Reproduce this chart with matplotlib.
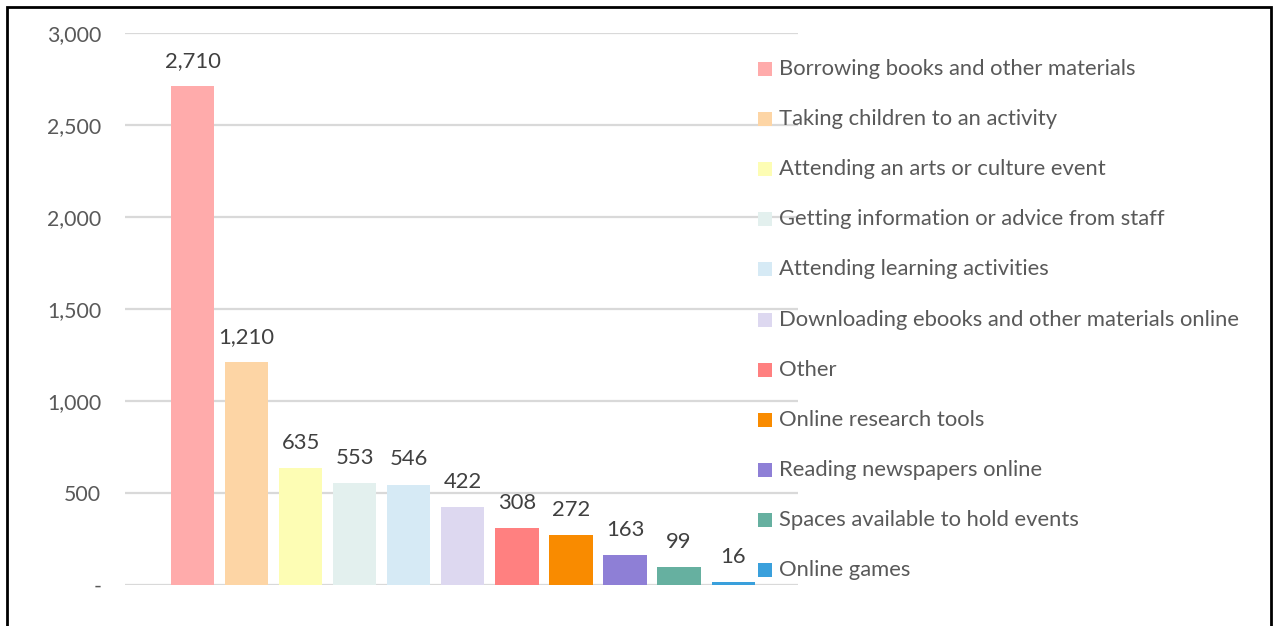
import matplotlib
matplotlib.use("Agg")
import matplotlib.pyplot as plt
from matplotlib.patches import Rectangle
from matplotlib.ticker import FuncFormatter

plt.rcParams["font.family"] = ["Lato", "DejaVu Sans"]

# Datos del gráfico
categories = [
    "Borrowing books and other materials",
    "Taking children to an activity",
    "Attending an arts or culture event",
    "Getting information or advice from staff",
    "Attending learning activities",
    "Downloading ebooks and other materials online",
    "Other",
    "Online research tools",
    "Reading newspapers online",
    "Spaces available to hold events",
    "Online games",
]
values = [2710, 1210, 635, 553, 546, 422, 308, 272, 163, 99, 16]
colors = [
    "#FFABAB", "#FDD5A5", "#FDFDB4", "#E3F0EE", "#D6EAF5", "#DDD8F0",
    "#FF8080", "#F98B00", "#8E7FD6", "#66B0A0", "#3AA0DC",
]
y_ticks = [0, 500, 1000, 1500, 2000, 2500, 3000]

W, H = 1273, 626
FS = 15.8
fig = plt.figure(figsize=(W / 100, H / 100), dpi=100)
ax = fig.add_axes([125 / W, 1 - 585 / H, (798 - 125) / W, (585 - 33) / H])

x = list(range(len(values)))
bars = ax.bar(x, values, width=0.8, color=colors, zorder=3)
for b, v in zip(bars, values):
    ax.annotate(f"{v:,}", (b.get_x() + b.get_width() / 2, v),
                xytext=(0, 11), textcoords="offset points",
                ha="center", va="bottom", fontsize=FS, color="#404040")

ax.set_xlim(-1.25, 11.2)
ax.set_ylim(0, 3000)
ax.set_yticks(y_ticks)
ax.yaxis.set_major_formatter(FuncFormatter(lambda v, p: "-" if v == 0 else f"{v:,.0f}"))
ax.tick_params(axis="y", length=0, pad=17, labelsize=FS - 0.5, labelcolor="#595959")
ax.set_xticks([])
ax.grid(axis="y", color="#D9D9D9", linewidth=1.6, zorder=0)
for s in ax.spines.values():
    s.set_visible(False)

# Leyenda manual
for i, (lab, c) in enumerate(zip(categories, colors)):
    yc = 69 + i * 50.1
    fig.patches.append(Rectangle((758 / W, 1 - (yc + 7) / H), 14 / W, 14 / H,
                                 transform=fig.transFigure, facecolor=c,
                                 edgecolor="none", zorder=5))
    fig.text(779 / W, 1 - yc / H, lab, fontsize=FS, color="#595959",
             va="center", ha="left", zorder=6)

# Marco exterior
fig.patches.append(Rectangle((7 / W, -0.01), (1271 - 7) / W, 1 - 7 / H + 0.01,
                             transform=fig.transFigure, facecolor="none",
                             edgecolor="#000000", linewidth=2.0, zorder=10))

fig.savefig("out.png", dpi=100)
